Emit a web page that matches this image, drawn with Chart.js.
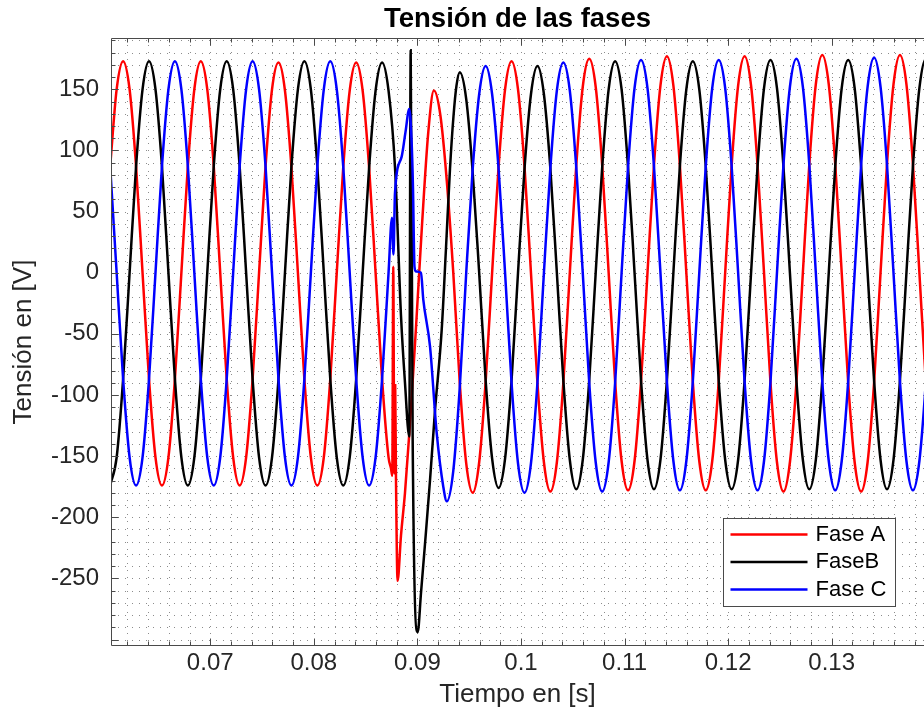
<!DOCTYPE html>
<html lang="es">
<head>
<meta charset="utf-8">
<title>Tensión de las fases</title>
<script src="https://cdn.jsdelivr.net/npm/chart.js@4.4.1/dist/chart.umd.min.js"></script>
<style>
  html, body { margin: 0; padding: 0; background: #fff; }
  canvas { display: block; }
</style>
</head>
<body>
<canvas id="grafico" width="924" height="715"></canvas>
<script>
"use strict";

// Muestreo regular de las tres tensiones: t = T0 + i * DT (s)
const T0 = 0.06034;
const DT = 0.000625;

// null = tramo reemplazado por los puntos de la falla
const faseA = [
  87, 150, 173, 150, 87, 0, -87, -151, -174, -151, -87, 0,
  87, 150, 173, 150, 87, 0, -87, -151, -174, -151, -87, 0,
  87, 150, 172, 149, 86, 0, -87, -151, -174, -151, -87, 0,
  86, 149, 172, 149, 86, 0, -87, -151, null, null, null, null,
  null, null, null, 129, 75, 0, -90, -156, -180, -155, -89, 0,
  87, 150, 173, 150, 87, 0, -90, -155, -179, -155, -90, 0,
  88, 152, 175, 152, 88, 0, -89, -154, -178, -154, -89, 0,
  88, 153, 177, 153, 88, 0, -89, -154, -178, -154, -89, 0,
  88, 153, 177, 153, 88, 0, -90, -155, -179, -155, -90, 0,
  89, 154, 178, 154, 89, 0, -90, -155, -179, -155, -90, 0,
  89, 154, 178, 154, 89, 0, -90, -155,
];

const faseB = [
  -174, -151, -87, 0, 87, 150, 173, 150, 87, 0, -87, -151,
  -174, -151, -87, 0, 87, 150, 173, 150, 87, 0, -87, -151,
  -174, -151, -87, 0, 87, 150, 173, 150, 87, 0, -87, -151,
  -174, -151, -87, 0, 86, 149, 172, 149, 86, null, null, null,
  null, null, null, null, null, null, null, 142, 82, 0, -88, -152,
  -176, -152, -88, 0, 85, 146, 169, 146, 85, 0, -88, -153,
  -177, -153, -88, 0, 86, 150, 173, 150, 86, 0, -88, -153,
  -177, -153, -88, 0, 87, 150, 173, 150, 87, 0, -88, -153,
  -177, -153, -88, 0, 87, 151, 174, 151, 87, 0, -88, -153,
  -177, -153, -88, 0, 87, 151, 174, 151, 87, 0, -88, -153,
  -177, -153, -88, 0, 87, 151, 175, 151,
];

const faseC = [
  87, 0, -87, -151, -174, -151, -87, 0, 87, 150, 173, 150,
  87, 0, -87, -151, -174, -151, -87, 0, 87, 150, 173, 150,
  87, 0, -87, -151, -174, -151, -87, 0, 87, 150, 173, 150,
  87, 0, -87, -151, -174, -151, -87, 0, null, null, null, null,
  null, null, null, null, null, -162, -94, 0, 85, 146, 169, 146,
  85, 0, -90, -156, -180, -156, -90, 0, 86, 149, 172, 149,
  86, 0, -90, -155, -179, -155, -90, 0, 87, 151, 174, 151,
  87, 0, -89, -154, -178, -154, -89, 0, 87, 151, 174, 151,
  87, 0, -89, -154, -178, -154, -89, 0, 88, 152, 175, 152,
  88, 0, -89, -154, -178, -154, -89, 0, 88, 152, 176, 152,
  88, 0, -89, -154, -178, -154, -89, 0,
];

// Transitorio de la falla (instantes irregulares)
const fallaTiempoA = [0.08745, 0.087576, 0.087672, 0.087769, 0.087856, 0.087933, 0.088087,
  0.088416, 0.088802, 0.089275, 0.089864, 0.090453, 0.091052, 0.09159];
const fallaA = [-160, -166, 5, -164, -92, -168, -252, -215, -180, -125, -45, 40, 115, 149];

const fallaTiempoB = [0.088416, 0.088802, 0.089217, 0.089352, 0.089545, 0.090028,
  0.090347, 0.090733, 0.091216, 0.091698, 0.092345, 0.092761, 0.093147, 0.093485,
  0.093774, 0.09409];
const fallaB = [-35, -90, -134, 182, -137, -294, -262, -222, -170, -113, -47, 20, 85, 128,
  153, 164];

const fallaTiempoC = [0.087547, 0.087691, 0.087836, 0.088483, 0.08885, 0.089217, 0.089429,
  0.089574, 0.089719, 0.089864, 0.090347, 0.090569, 0.091216, 0.091863, 0.0925, 0.09284];
const fallaC = [45, 15, 65, 95, 115, 134, 110, 70, 5, 1, 0, -22, -60, -131, -175, -187];

const etiquetas = ["Fase A", "FaseB", "Fase C"];
const colores = ["#ff0000", "#000000", "#0000ff"];

const xTicks = [0.07, 0.08, 0.09, 0.1, 0.11, 0.12, 0.13];
const xTickLabels = ["0.07", "0.08", "0.09", "0.1", "0.11", "0.12", "0.13"];
const yTicks = [-250, -200, -150, -100, -50, 0, 50, 100, 150];
const yTickLabels = ["-250", "-200", "-150", "-100", "-50", "0", "50", "100", "150"];

const FUENTE = '"Liberation Sans", Arial, Helvetica, sans-serif';
const COLOR_TEXTO = "#262626";
const COLOR_EJE = "#4a4a4a";

function serie(valores, tFalla, vFalla) {
  const puntos = [];
  valores.forEach((v, i) => {
    if (v !== null) puntos.push({ x: T0 + i * DT, y: v });
  });
  tFalla.forEach((t, i) => puntos.push({ x: t, y: vFalla[i] }));
  return puntos.sort((a, b) => a.x - b.x);
}

// Malla punteada (mayor y menor) bajo las curvas, caja, marcas y leyenda encima
const mallaPlugin = {
  id: "malla",
  beforeDatasetsDraw(chart) {
    const { ctx, chartArea: area, scales } = chart;
    ctx.save();
    ctx.beginPath();
    ctx.rect(area.left, area.top, area.right - area.left, area.bottom - area.top);
    ctx.clip();
    ctx.strokeStyle = "rgba(0, 0, 0, 0.45)";
    ctx.lineWidth = 1;
    ctx.setLineDash([1, 6]);
    ctx.beginPath();
    for (let i = 31; i <= 69; i++) {
      const px = Math.round(scales.x.getPixelForValue(i * 0.002)) + 0.5;
      ctx.moveTo(px, area.top);
      ctx.lineTo(px, area.bottom);
    }
    for (let v = -300; v <= 190; v += 10) {
      const py = Math.round(scales.y.getPixelForValue(v)) + 0.5;
      ctx.moveTo(area.left, py);
      ctx.lineTo(area.right, py);
    }
    ctx.stroke();
    ctx.restore();
  },
  afterDatasetsDraw(chart) {
    const { ctx, chartArea: area, scales } = chart;
    const izq = Math.round(area.left) + 0.5;
    const arr = Math.round(area.top) + 0.5;
    const abj = Math.round(area.bottom) - 0.5;

    ctx.save();
    ctx.strokeStyle = COLOR_EJE;
    ctx.lineWidth = 1;
    ctx.beginPath();
    ctx.moveTo(area.right, arr);
    ctx.lineTo(izq, arr);
    ctx.lineTo(izq, abj);
    ctx.lineTo(area.right, abj);
    for (let i = 31; i <= 69; i++) {
      const largo = i % 5 === 0 ? 7 : 4;
      const px = Math.round(scales.x.getPixelForValue(i * 0.002)) + 0.5;
      ctx.moveTo(px, abj);
      ctx.lineTo(px, abj - largo);
      ctx.moveTo(px, arr);
      ctx.lineTo(px, arr + largo);
    }
    for (let v = -300; v <= 190; v += 10) {
      const largo = v % 50 === 0 ? 7 : 4;
      const py = Math.round(scales.y.getPixelForValue(v)) + 0.5;
      ctx.moveTo(izq, py);
      ctx.lineTo(izq + largo, py);
    }
    ctx.stroke();

    // leyenda
    const ancho = 172, alto = 88;
    const x0 = Math.round(area.right - 29 - ancho) + 0.5;
    const y0 = Math.round(area.bottom - 40 - alto) + 0.5;
    ctx.fillStyle = "#ffffff";
    ctx.fillRect(x0, y0, ancho, alto);
    ctx.strokeStyle = COLOR_EJE;
    ctx.strokeRect(x0, y0, ancho, alto);
    ctx.font = "22px " + FUENTE;
    ctx.textBaseline = "middle";
    ctx.textAlign = "left";
    chart.data.datasets.forEach((ds, i) => {
      const fy = y0 + 16 + i * 27.5;
      ctx.strokeStyle = ds.borderColor;
      ctx.lineWidth = 2.5;
      ctx.beginPath();
      ctx.moveTo(x0 + 7, fy);
      ctx.lineTo(x0 + 84, fy);
      ctx.stroke();
      ctx.fillStyle = "#000000";
      ctx.fillText(ds.label, x0 + 92, fy);
    });
    ctx.restore();
  },
};

Chart.defaults.font.family = FUENTE;

const datos = [
  serie(faseA, fallaTiempoA, fallaA),
  serie(faseB, fallaTiempoB, fallaB),
  serie(faseC, fallaTiempoC, fallaC),
];

const ctx = document.getElementById("grafico").getContext("2d");
const chart = new Chart(ctx, {
  type: "line",
  data: {
    datasets: datos.map((d, i) => ({
      label: etiquetas[i],
      data: d,
      borderColor: colores[i],
      borderWidth: 2.5,
      pointRadius: 0,
      cubicInterpolationMode: "monotone",
      clip: 0,
      order: 3 - i,
    })),
  },
  options: {
    responsive: false,
    animation: false,
    events: [],
    layout: { padding: 0 },
    plugins: {
      legend: { display: false },
      tooltip: { enabled: false },
      title: {
        display: true,
        fullSize: false,
        text: "Tensión de las fases",
        color: "#000000",
        font: { size: 27.5, weight: "bold" },
        padding: { top: 3, bottom: 2 },
      },
    },
    scales: {
      x: {
        type: "linear",
        min: 0.06042,
        max: 0.13891,
        grid: { display: false },
        border: { display: false },
        afterBuildTicks: (scale) => {
          scale.ticks = xTicks.map((value) => ({ value }));
        },
        afterFit: (scale) => {
          scale.height = 69;
        },
        ticks: {
          autoSkip: false,
          maxRotation: 0,
          padding: -5,
          color: COLOR_TEXTO,
          font: { size: 24 },
          callback: (value, index) => xTickLabels[index],
        },
        title: {
          display: true,
          text: "Tiempo en [s]",
          color: COLOR_TEXTO,
          font: { size: 26 },
          padding: { top: 0, bottom: 5 },
        },
      },
      y: {
        type: "linear",
        min: -305.3,
        max: 192,
        grid: { display: false },
        border: { display: false },
        afterBuildTicks: (scale) => {
          scale.ticks = yTicks.map((value) => ({ value }));
        },
        afterFit: (scale) => {
          scale.width = 111;
        },
        ticks: {
          autoSkip: false,
          padding: 4,
          color: COLOR_TEXTO,
          font: { size: 24 },
          callback: (value, index) => yTickLabels[index],
        },
        title: {
          display: true,
          text: "Tensión en [V]",
          color: COLOR_TEXTO,
          font: { size: 26 },
          padding: { top: 8, bottom: 0 },
        },
      },
    },
  },
  plugins: [mallaPlugin],
});
</script>
</body>
</html>
